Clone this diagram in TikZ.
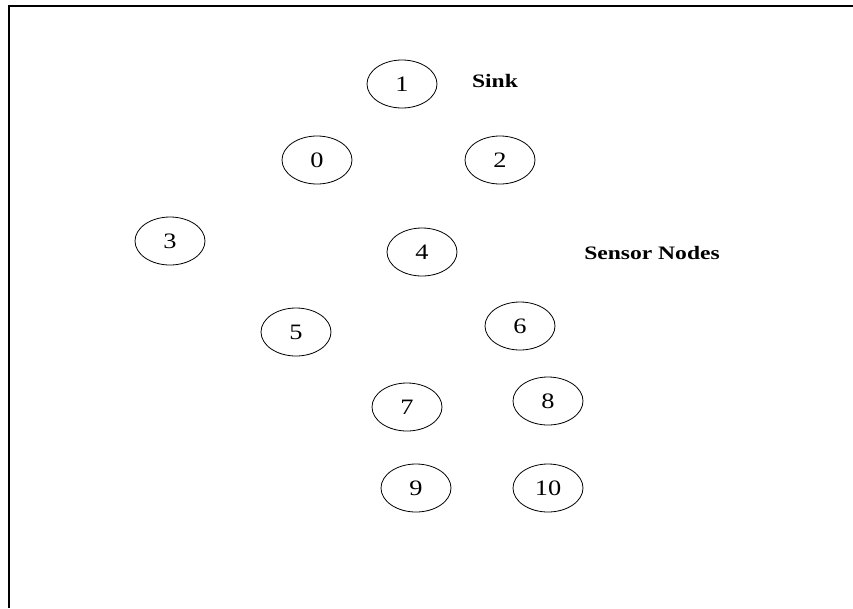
\documentclass[tikz,border=0pt]{standalone}
\usepackage{fontspec}
\setmainfont{Liberation Serif}
\usetikzlibrary{shapes.geometric}
\tikzset{
  sensor/.style={draw, ellipse, line width=0.8pt, minimum width=70pt, minimum height=48pt, inner sep=0pt,
    font=\fontsize{22}{22}\selectfont},
  lbl/.style={font=\fontsize{19}{19}\selectfont\bfseries, inner sep=0pt},
  frame/.style={line width=2.4pt}
}
\newcommand{\wide}[1]{\scalebox{1.2}[1]{#1}}
\newcommand{\widelbl}[1]{\scalebox{1.24}[1]{#1}}
\begin{document}
\begin{tikzpicture}[x=1pt,y=-1pt]
\useasboundingbox (0,0) rectangle (853,608);
\coordinate (tr) at (853,6);
\coordinate (tl) at (9,6);
\coordinate (bl) at (9,608);
\draw[frame] (tr) -- (tl) -- (bl);
\node[sensor] (n1) at (402,84) {\wide{1}};
\node[sensor] (n0) at (317,160) {\wide{0}};
\node[sensor] (n2) at (500,160) {\wide{2}};
\node[sensor] (n3) at (170,241) {\wide{3}};
\node[sensor] (n4) at (422,252) {\wide{4}};
\node[sensor] (n5) at (296,332) {\wide{5}};
\node[sensor] (n6) at (520,326) {\wide{6}};
\node[sensor] (n7) at (407,407) {\wide{7}};
\node[sensor] (n8) at (548,401) {\wide{8}};
\node[sensor] (n9) at (416,488) {\wide{9}};
\node[sensor] (n10) at (548,488) {\wide{10}};
\node[lbl] (sink) at (495,81) {\widelbl{Sink}};
\node[lbl] (sn) at (652,253) {\widelbl{Sensor Nodes}};
\end{tikzpicture}
\end{document}
